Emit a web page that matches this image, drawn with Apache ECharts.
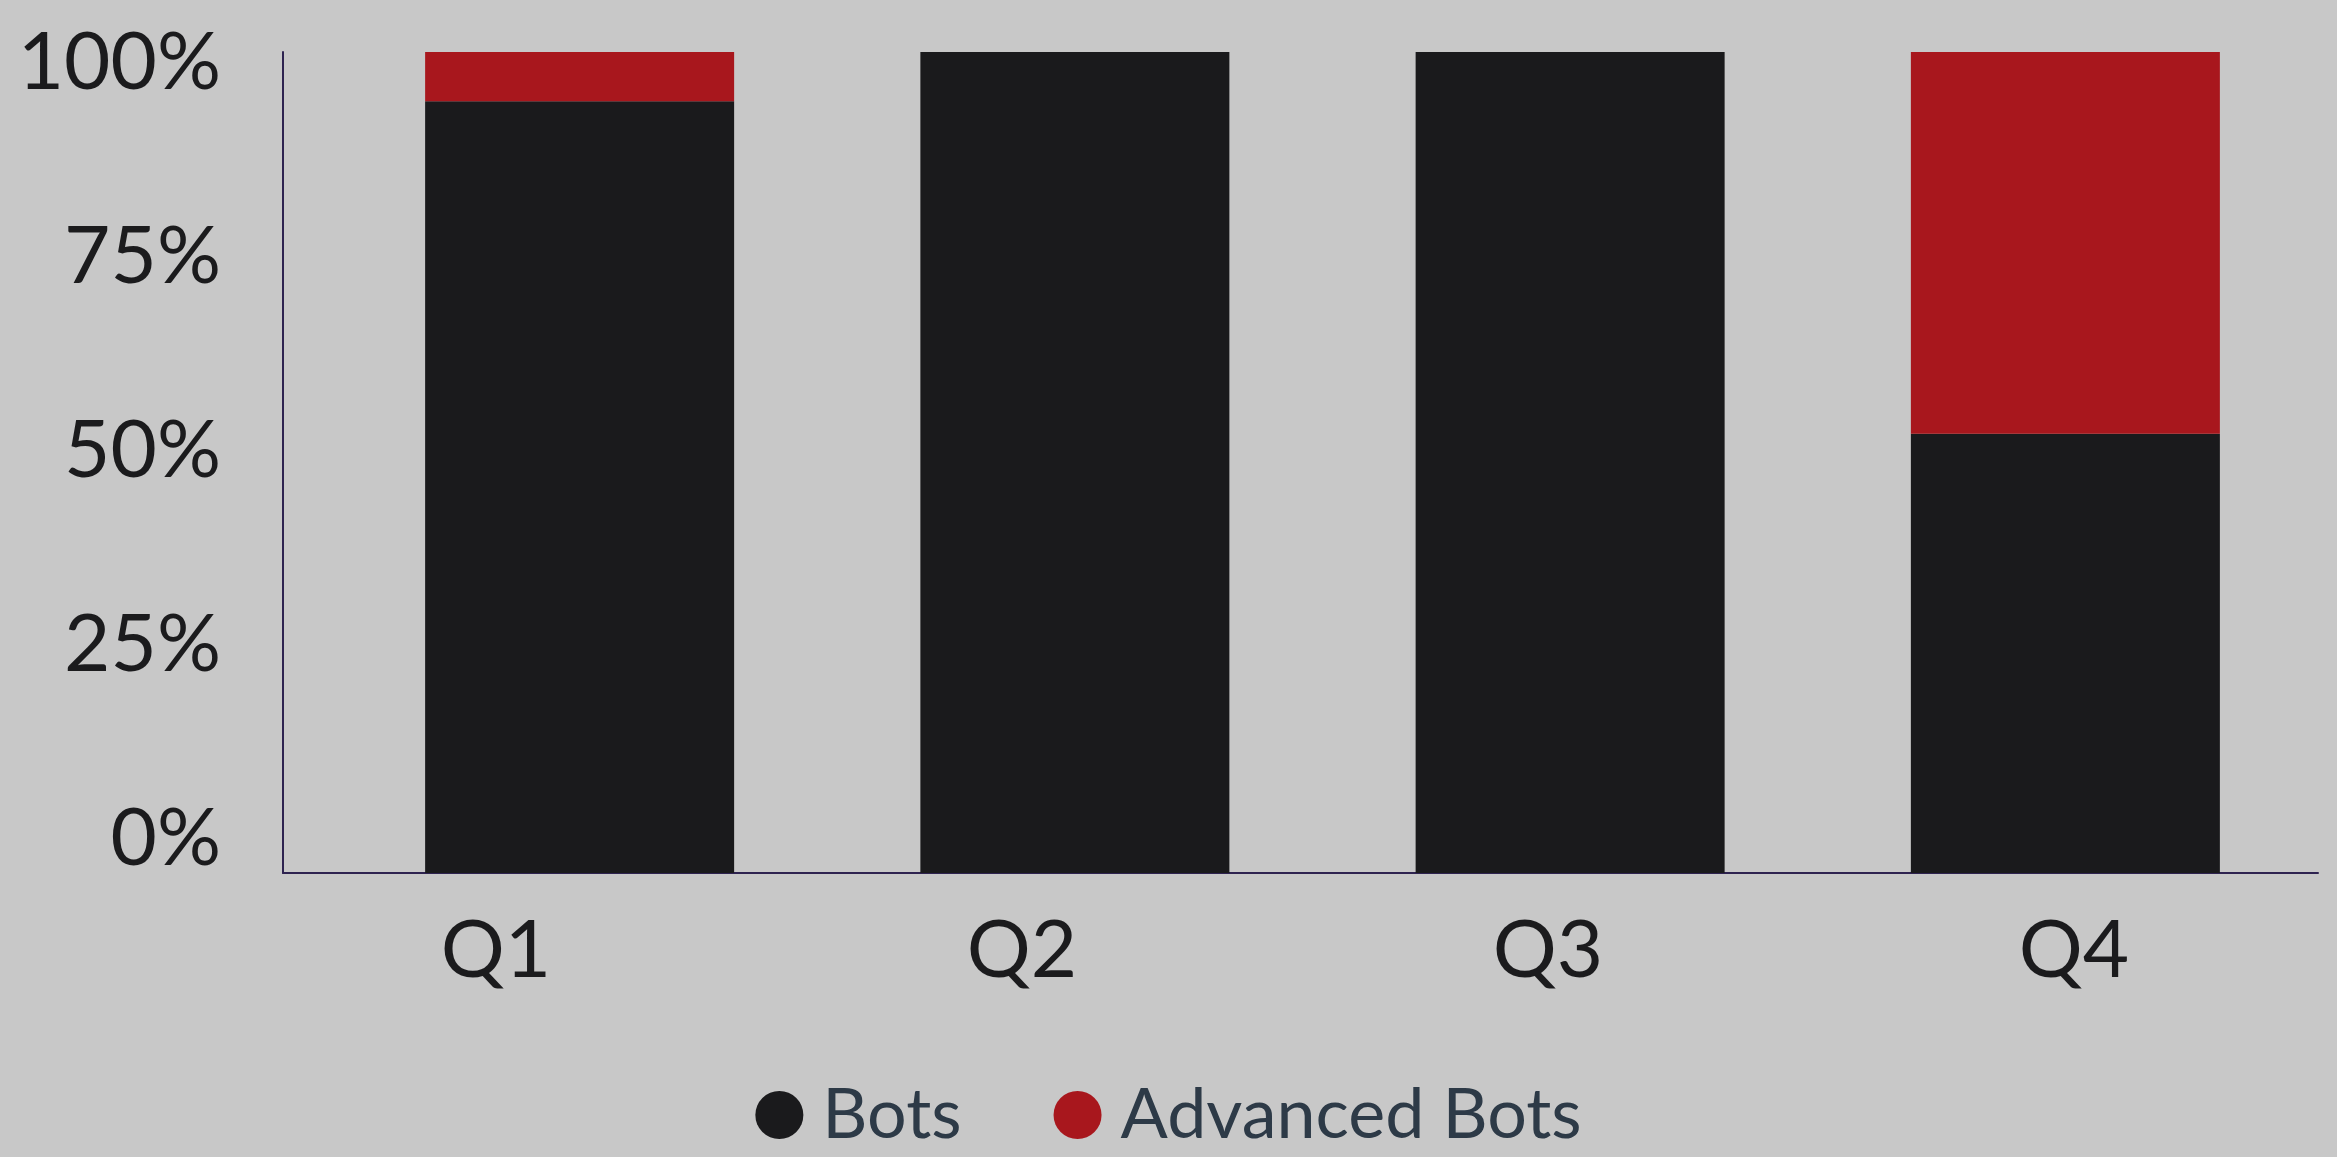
<!DOCTYPE html>
<html lang="en">
<head>
  <meta charset="utf-8">
  <title>Bots by quarter</title>
  <script src="https://cdn.jsdelivr.net/npm/echarts@6/dist/echarts.min.js"></script>
  <style>
    html, body { margin: 0; padding: 0; background: #c8c8c8; }
  </style>
</head>
<body>
<div id="main" style="width: 2337px;height:1157px;"></div>
<script type="text/javascript">
// data
var quarters = ['Q1', 'Q2', 'Q3', 'Q4'];
var bots = [94, 100, 100, 53.5];
var advancedBots = [6, 0, 0, 46.5];
var yTicks = [0, 25, 50, 75, 100];

var font = 'Lato';
var myChart = echarts.init(document.getElementById('main'));

var option = {
  backgroundColor: '#c8c8c8',
  textStyle: { fontFamily: font },
  legend: {
    bottom: 2,
    left: 'center',
    icon: 'circle',
    itemWidth: 48,
    itemHeight: 48,
    itemGap: 92,
    textStyle: { fontSize: 70, color: '#2d3a47', fontFamily: font, padding: [0, 0, 0, 14] },
    data: ['Bots', 'Advanced Bots']
  },
  grid: [
    // bars
    { left: 332, width: 1981, top: 52, bottom: 284 },
    // axis lines
    { left: 283, right: 19, top: 52, bottom: 284 },
    // tick labels
    { left: 233, width: 2128, top: 63, bottom: 318 }
  ],
  xAxis: [
    { gridIndex: 0, type: 'category', data: quarters, show: false },
    {
      gridIndex: 1, type: 'category', data: quarters,
      axisLine: { lineStyle: { color: '#2e2350', width: 2 } },
      axisTick: { show: false }, axisLabel: { show: false }
    },
    {
      gridIndex: 2, type: 'category', data: quarters,
      axisLine: { show: false }, axisTick: { show: false },
      axisLabel: { fontSize: 80, color: '#1b1b1d', margin: 72, fontFamily: font }
    }
  ],
  yAxis: [
    { gridIndex: 0, type: 'value', min: 0, max: 100, show: false },
    {
      gridIndex: 1, type: 'value', min: 0, max: 100, interval: 25,
      axisLine: { show: true, lineStyle: { color: '#2e2350', width: 2 } },
      axisTick: { show: false }, axisLabel: { show: false }, splitLine: { show: false }
    },
    {
      gridIndex: 2, type: 'value', min: yTicks[0], max: yTicks[yTicks.length - 1], interval: 25,
      axisLine: { show: false }, axisTick: { show: false }, splitLine: { show: false },
      axisLabel: { fontSize: 80, color: '#1b1b1d', margin: 12, formatter: '{value}%', fontFamily: font }
    }
  ],
  series: [
    {
      name: 'Bots', type: 'bar', stack: 'total', xAxisIndex: 0, yAxisIndex: 0,
      barWidth: 309, data: bots, itemStyle: { color: '#1a1a1c' }
    },
    {
      name: 'Advanced Bots', type: 'bar', stack: 'total', xAxisIndex: 0, yAxisIndex: 0,
      barWidth: 309, data: advancedBots, itemStyle: { color: '#a8171d' }
    }
  ]
};
myChart.setOption(option);
</script>
</body>
</html>
